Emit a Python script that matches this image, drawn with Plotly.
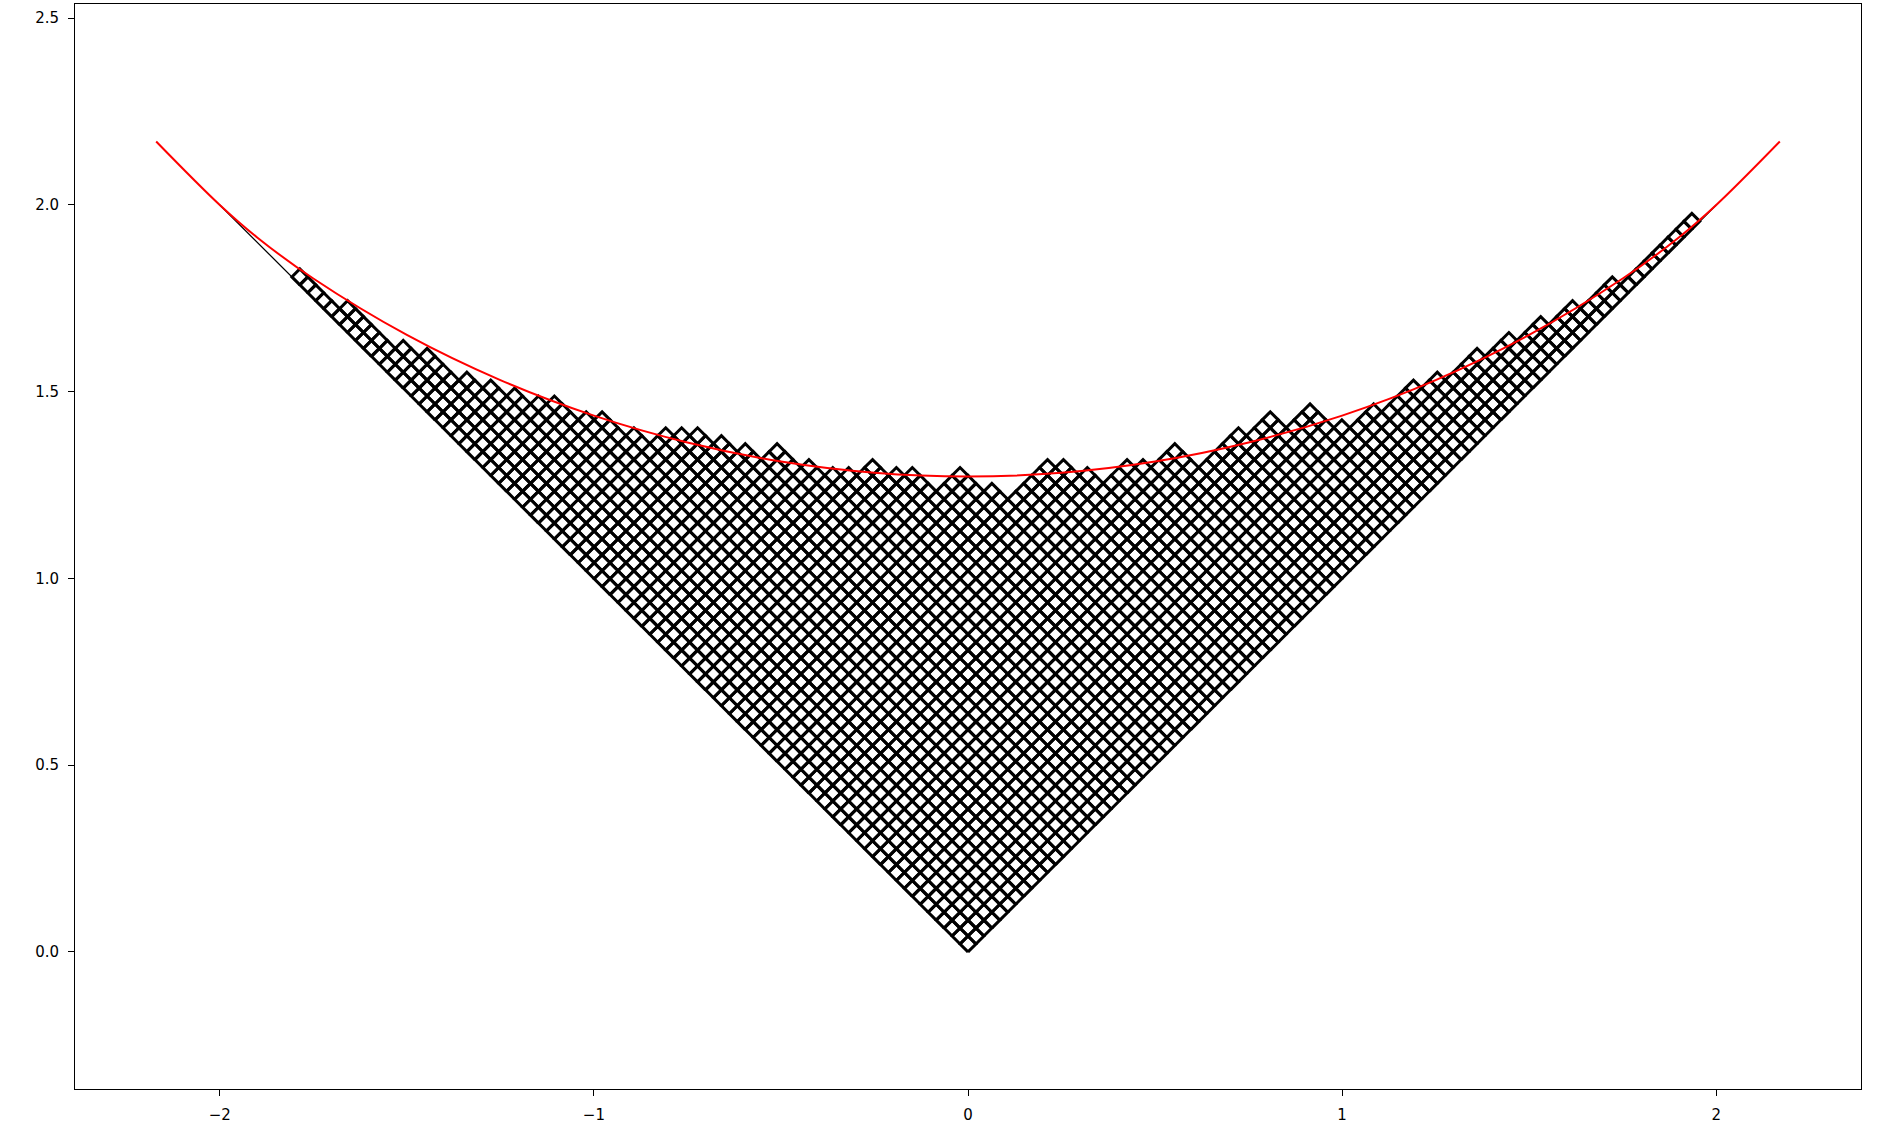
import numpy as np
import plotly.graph_objects as go

# outer corners of the Young diagram: (row index, row length)
corner_rows = [84, 79, 73, 71, 67, 65, 63, 61, 60, 57, 56, 53, 51, 50, 49, 47, 45, 43,
               40, 38, 37, 36, 34, 33, 30, 27, 25, 24, 22, 20, 19, 18, 15, 14, 12, 9,
               8, 7, 6, 5, 4, 3, 2, 1, 0]
corner_lens = [1, 2, 3, 4, 5, 6, 7, 8, 9, 10, 11, 12, 14, 15, 16, 17, 18, 20,
               21, 22, 23, 25, 26, 27, 30, 31, 36, 37, 38, 41, 42, 45, 50, 53, 56, 57,
               60, 64, 66, 70, 73, 76, 79, 83, 92]

# limit shape (red curve)
curve_u = [-2.17, -2.0, -1.9, -1.75, -1.5, -1.25, -1.0, -0.75, -0.5, -0.25, 0.0,
           0.25, 0.5, 0.75, 1.0, 1.25, 1.5, 1.75, 1.9, 2.0, 2.17]
curve_v = [2.17, 2.0, 1.913, 1.803, 1.652, 1.531, 1.436, 1.364, 1.313, 1.283, 1.273,
           1.283, 1.313, 1.364, 1.436, 1.531, 1.652, 1.803, 1.913, 2.0, 2.17]

# reference line |u|
ref_u = [-2.0, 0.0, 2.0]

x_ticks = [-2, -1, 0, 1, 2]
x_labels = ['\u22122', '\u22121', '0', '1', '2']
y_ticks = [0.0, 0.5, 1.0, 1.5, 2.0, 2.5]
y_labels = ['0.0', '0.5', '1.0', '1.5', '2.0', '2.5']


def row_lengths(rows, lens):
    ''' Returns: list of row lengths built from the outer corners. '''
    out = []
    for i in range(max(rows) + 1):
        out.append(max(l for r, l in zip(rows, lens) if r >= i))
    return out


lam = row_lengths(corner_rows, corner_lens)
n = sum(lam)
scale = 1 / np.sqrt(n)

# every cell as a diamond (russian convention)
xs, ys = [], []
for i, length in enumerate(lam):
    for j in range(length):
        u = j - i
        v = i + j
        xs += [u, u + 1, u, u - 1, u, None]
        ys += [v, v + 1, v + 2, v + 1, v, None]
xs = [None if p is None else p * scale for p in xs]
ys = [None if p is None else p * scale for p in ys]

fig = go.Figure()
fig.add_trace(go.Scatter(x=ref_u, y=[abs(u) for u in ref_u], mode='lines',
                         line=dict(color='black', width=1.3), hoverinfo='skip'))
fig.add_trace(go.Scatter(x=xs, y=ys, mode='lines',
                         line=dict(color='black', width=3), hoverinfo='skip'))
fig.add_trace(go.Scatter(x=curve_u, y=curve_v, mode='lines',
                         line=dict(color='red', width=2, shape='spline', smoothing=1),
                         hoverinfo='skip'))

axis_style = dict(showgrid=False, zeroline=False, showline=True, mirror=True,
                  linecolor='black', linewidth=1, ticks='outside', ticklen=6,
                  tickwidth=1, tickcolor='black', ticklabelstandoff=6,
                  tickfont=dict(family='DejaVu Sans', size=15, color='black'))
fig.update_xaxes(range=[-2.387, 2.387], tickvals=x_ticks, ticktext=x_labels, **axis_style)
fig.update_yaxes(range=[-0.367, 2.538], tickvals=y_ticks, ticktext=y_labels, **axis_style)
fig.update_layout(width=1886, height=1132, showlegend=False,
                  margin=dict(l=75, r=25, t=4, b=43),
                  plot_bgcolor='white', paper_bgcolor='white')

fig.write_html("out.html", config={'displayModeBar': False},
               post_script="document.body.style.margin='0';")
